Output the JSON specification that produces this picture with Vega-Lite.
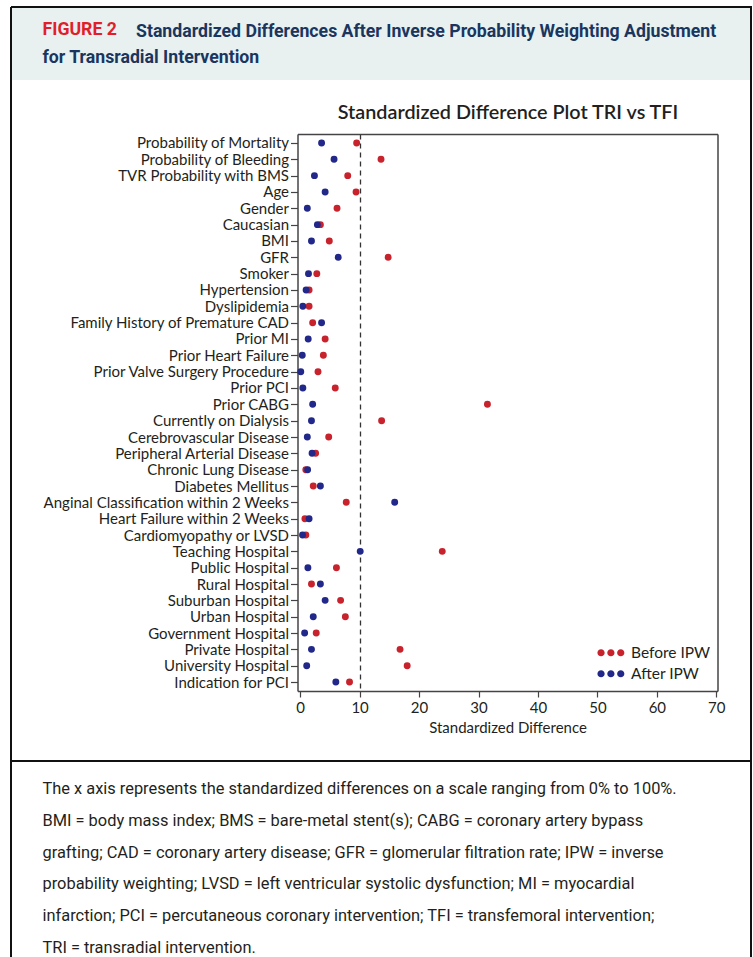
{
  "$schema": "https://vega.github.io/schema/vega-lite/v6.json",
  "background": "white",
  "padding": {"left": 10, "top": 6, "right": 0, "bottom": 0},
  "bounds": "flush",
  "spacing": 0,
  "title": {
    "text": "Standardized Differences After Inverse Probability Weighting Adjustment",
    "anchor": "start",
    "frame": "bounds",
    "orient": "top",
    "offset": -35,
    "dx": 126,
    "font": "Roboto",
    "fontSize": 17.7,
    "fontWeight": "bold",
    "color": "#1a365f"
  },
  "datasets": {
    "diffs": [
      {"variable": "Probability of Mortality", "group": "Before IPW", "diff": 9.5},
      {"variable": "Probability of Bleeding", "group": "Before IPW", "diff": 13.6},
      {"variable": "TVR Probability with BMS", "group": "Before IPW", "diff": 8.0},
      {"variable": "Age", "group": "Before IPW", "diff": 9.4},
      {"variable": "Gender", "group": "Before IPW", "diff": 6.2},
      {"variable": "Caucasian", "group": "Before IPW", "diff": 3.4},
      {"variable": "BMI", "group": "Before IPW", "diff": 4.9},
      {"variable": "GFR", "group": "Before IPW", "diff": 14.8},
      {"variable": "Smoker", "group": "Before IPW", "diff": 2.8},
      {"variable": "Hypertension", "group": "Before IPW", "diff": 1.5},
      {"variable": "Dyslipidemia", "group": "Before IPW", "diff": 1.5},
      {"variable": "Family History of Premature CAD", "group": "Before IPW", "diff": 2.1},
      {"variable": "Prior MI", "group": "Before IPW", "diff": 4.2},
      {"variable": "Prior Heart Failure", "group": "Before IPW", "diff": 3.9},
      {"variable": "Prior Valve Surgery Procedure", "group": "Before IPW", "diff": 3.0},
      {"variable": "Prior PCI", "group": "Before IPW", "diff": 5.9},
      {"variable": "Prior CABG", "group": "Before IPW", "diff": 31.5},
      {"variable": "Currently on Dialysis", "group": "Before IPW", "diff": 13.7},
      {"variable": "Cerebrovascular Disease", "group": "Before IPW", "diff": 4.8},
      {"variable": "Peripheral Arterial Disease", "group": "Before IPW", "diff": 2.6},
      {"variable": "Chronic Lung Disease", "group": "Before IPW", "diff": 0.95},
      {"variable": "Diabetes Mellitus", "group": "Before IPW", "diff": 2.2},
      {"variable": "Anginal Classification within 2 Weeks", "group": "Before IPW", "diff": 7.75},
      {"variable": "Heart Failure within 2 Weeks", "group": "Before IPW", "diff": 0.8},
      {"variable": "Cardiomyopathy or LVSD", "group": "Before IPW", "diff": 0.95},
      {"variable": "Teaching Hospital", "group": "Before IPW", "diff": 23.9},
      {"variable": "Public Hospital", "group": "Before IPW", "diff": 6.1},
      {"variable": "Rural Hospital", "group": "Before IPW", "diff": 1.9},
      {"variable": "Suburban Hospital", "group": "Before IPW", "diff": 6.8},
      {"variable": "Urban Hospital", "group": "Before IPW", "diff": 7.6},
      {"variable": "Government Hospital", "group": "Before IPW", "diff": 2.7},
      {"variable": "Private Hospital", "group": "Before IPW", "diff": 16.8},
      {"variable": "University Hospital", "group": "Before IPW", "diff": 18.0},
      {"variable": "Indication for PCI", "group": "Before IPW", "diff": 8.3},
      {"variable": "Probability of Mortality", "group": "After IPW", "diff": 3.6},
      {"variable": "Probability of Bleeding", "group": "After IPW", "diff": 5.7},
      {"variable": "TVR Probability with BMS", "group": "After IPW", "diff": 2.4},
      {"variable": "Age", "group": "After IPW", "diff": 4.2},
      {"variable": "Gender", "group": "After IPW", "diff": 1.2},
      {"variable": "Caucasian", "group": "After IPW", "diff": 2.9},
      {"variable": "BMI", "group": "After IPW", "diff": 1.9},
      {"variable": "GFR", "group": "After IPW", "diff": 6.4},
      {"variable": "Smoker", "group": "After IPW", "diff": 1.4},
      {"variable": "Hypertension", "group": "After IPW", "diff": 1.0},
      {"variable": "Dyslipidemia", "group": "After IPW", "diff": 0.45},
      {"variable": "Family History of Premature CAD", "group": "After IPW", "diff": 3.6},
      {"variable": "Prior MI", "group": "After IPW", "diff": 1.35},
      {"variable": "Prior Heart Failure", "group": "After IPW", "diff": 0.35},
      {"variable": "Prior Valve Surgery Procedure", "group": "After IPW", "diff": 0.1},
      {"variable": "Prior PCI", "group": "After IPW", "diff": 0.45},
      {"variable": "Prior CABG", "group": "After IPW", "diff": 2.1},
      {"variable": "Currently on Dialysis", "group": "After IPW", "diff": 1.9},
      {"variable": "Cerebrovascular Disease", "group": "After IPW", "diff": 1.2},
      {"variable": "Peripheral Arterial Disease", "group": "After IPW", "diff": 2.0},
      {"variable": "Chronic Lung Disease", "group": "After IPW", "diff": 1.25},
      {"variable": "Diabetes Mellitus", "group": "After IPW", "diff": 3.4},
      {"variable": "Anginal Classification within 2 Weeks", "group": "After IPW", "diff": 15.9},
      {"variable": "Heart Failure within 2 Weeks", "group": "After IPW", "diff": 1.5},
      {"variable": "Cardiomyopathy or LVSD", "group": "After IPW", "diff": 0.4},
      {"variable": "Teaching Hospital", "group": "After IPW", "diff": 10.1},
      {"variable": "Public Hospital", "group": "After IPW", "diff": 1.3},
      {"variable": "Rural Hospital", "group": "After IPW", "diff": 3.4},
      {"variable": "Suburban Hospital", "group": "After IPW", "diff": 4.2},
      {"variable": "Urban Hospital", "group": "After IPW", "diff": 2.2},
      {"variable": "Government Hospital", "group": "After IPW", "diff": 0.75},
      {"variable": "Private Hospital", "group": "After IPW", "diff": 1.9},
      {"variable": "University Hospital", "group": "After IPW", "diff": 1.1},
      {"variable": "Indication for PCI", "group": "After IPW", "diff": 6.0}
    ]
  },
  "vconcat": [
    {
      "width": 740,
      "height": 73,
      "view": {"fill": "#e8f1f0", "stroke": "#111111", "strokeWidth": 2, "strokeDash": [813, 740, 73, 0]},
      "data": {"values": []},
      "mark": "text",
      "title": {
        "text": "FIGURE 2",
        "subtitle": "for Transradial Intervention",
        "anchor": "start",
        "frame": "group",
        "orient": "top",
        "offset": -59.5,
        "dx": 31.5,
        "font": "Roboto",
        "fontSize": 17.7,
        "fontWeight": "bold",
        "color": "#e11f2b",
        "subtitleFont": "Roboto",
        "subtitleFontSize": 17.7,
        "subtitleFontWeight": "bold",
        "subtitleColor": "#1a365f",
        "subtitlePadding": 10.3
      }
    },
    {
      "width": 740,
      "height": 681,
      "view": {"stroke": "#111111", "strokeWidth": 2, "strokeDash": [0, 740, 681, 740, 681, 0], "fill": null},
      "data": {"name": "diffs"},
      "title": {
        "text": "Standardized Difference Plot TRI vs TFI",
        "anchor": "middle",
        "frame": "group",
        "orient": "top",
        "dx": 127,
        "offset": -43,
        "font": "Lato",
        "fontSize": 19.8,
        "fontWeight": 600,
        "color": "#231f20"
      },
      "layer": [
        {
          "mark": {"type": "point", "filled": true, "size": 48, "opacity": 1, "strokeWidth": 0},
          "encoding": {
            "x": {
              "field": "diff",
              "type": "quantitative",
              "scale": {"domain": [-0.45, 70.2], "range": [286.5, 706.5], "nice": false, "zero": false},
              "axis": {
                "orient": "bottom",
                "offset": -70,
                "values": [0, 10, 20, 30, 40, 50, 60, 70],
                "title": "Standardized Difference",
                "grid": false,
                "tickSize": 6,
                "labelPadding": 3,
                "titlePadding": 5
              }
            },
            "y": {
              "field": "variable",
              "type": "nominal",
              "sort": null,
              "scale": {"type": "point", "range": [54, 611], "padding": 0.55},
              "axis": {
                "orient": "left",
                "offset": -286.5,
                "title": null,
                "grid": false,
                "labelLimit": 400,
                "tickSize": 7,
                "labelPadding": 2
              }
            },
            "color": {
              "field": "group",
              "type": "nominal",
              "scale": {"domain": ["Before IPW", "After IPW"], "range": ["#c8232c", "#22288a"]},
              "legend": {
                "orient": "none",
                "legendX": 602,
                "legendY": 638,
                "title": null,
                "padding": 0,
                "symbolType": "M-3.22,0a0.5,0.5 0 1,0 1,0a0.5,0.5 0 1,0 -1,0M-1.86,0a0.5,0.5 0 1,0 1,0a0.5,0.5 0 1,0 -1,0M-0.5,0a0.5,0.5 0 1,0 1,0a0.5,0.5 0 1,0 -1,0Z",
                "symbolSize": 210,
                "symbolStrokeWidth": 0,
                "symbolOpacity": 1,
                "labelOffset": 2.5,
                "rowPadding": 4,
                "labelFont": "Lato",
                "labelFontSize": 15.5,
                "labelColor": "#231f20"
              }
            }
          }
        },
        {
          "mark": {"type": "point", "opacity": 0},
          "encoding": {
            "x": {
              "field": "diff",
              "type": "quantitative",
              "scale": {"domain": [-0.45, 70.2], "range": [286.5, 706.5], "nice": false, "zero": false},
              "axis": {
                "orient": "top",
                "offset": -54,
                "labels": false,
                "ticks": false,
                "title": null,
                "grid": true,
                "values": [10],
                "gridDash": [5, 4],
                "gridColor": "#333333",
                "gridWidth": 1.3
              }
            },
            "y": {
              "field": "variable",
              "type": "nominal",
              "sort": null,
              "scale": {"type": "point", "range": [54, 611], "padding": 0.55},
              "axis": {
                "orient": "right",
                "offset": -33.5,
                "labels": false,
                "ticks": false,
                "title": null,
                "grid": false
              }
            }
          }
        }
      ],
      "resolve": {"axis": {"x": "independent", "y": "independent"}}
    },
    {
      "width": 740,
      "height": 200,
      "view": {"stroke": "#111111", "strokeWidth": 2, "fill": null},
      "data": {"values": []},
      "mark": "text",
      "title": {
        "text": [
          "The x axis represents the standardized differences on a scale ranging from 0% to 100%.",
          "BMI = body mass index; BMS = bare-metal stent(s); CABG = coronary artery bypass",
          "grafting; CAD = coronary artery disease; GFR = glomerular filtration rate; IPW = inverse",
          "probability weighting; LVSD = left ventricular systolic dysfunction; MI = myocardial",
          "infarction; PCI = percutaneous coronary intervention; TFI = transfemoral intervention;",
          "TRI = transradial intervention."
        ],
        "anchor": "start",
        "frame": "group",
        "orient": "top",
        "offset": -195.5,
        "dx": 31.5,
        "font": "Roboto",
        "fontSize": 16.4,
        "fontWeight": "normal",
        "color": "#231f20",
        "lineHeight": 31.8
      }
    }
  ],
  "config": {
    "axis": {
      "domainColor": "#444444",
      "domainWidth": 1.5,
      "tickColor": "#444444",
      "tickWidth": 1.2,
      "labelColor": "#231f20",
      "titleColor": "#231f20",
      "labelFont": "Lato",
      "titleFont": "Lato",
      "labelFontSize": 15,
      "titleFontSize": 15,
      "titleFontWeight": "normal"
    }
  }
}
